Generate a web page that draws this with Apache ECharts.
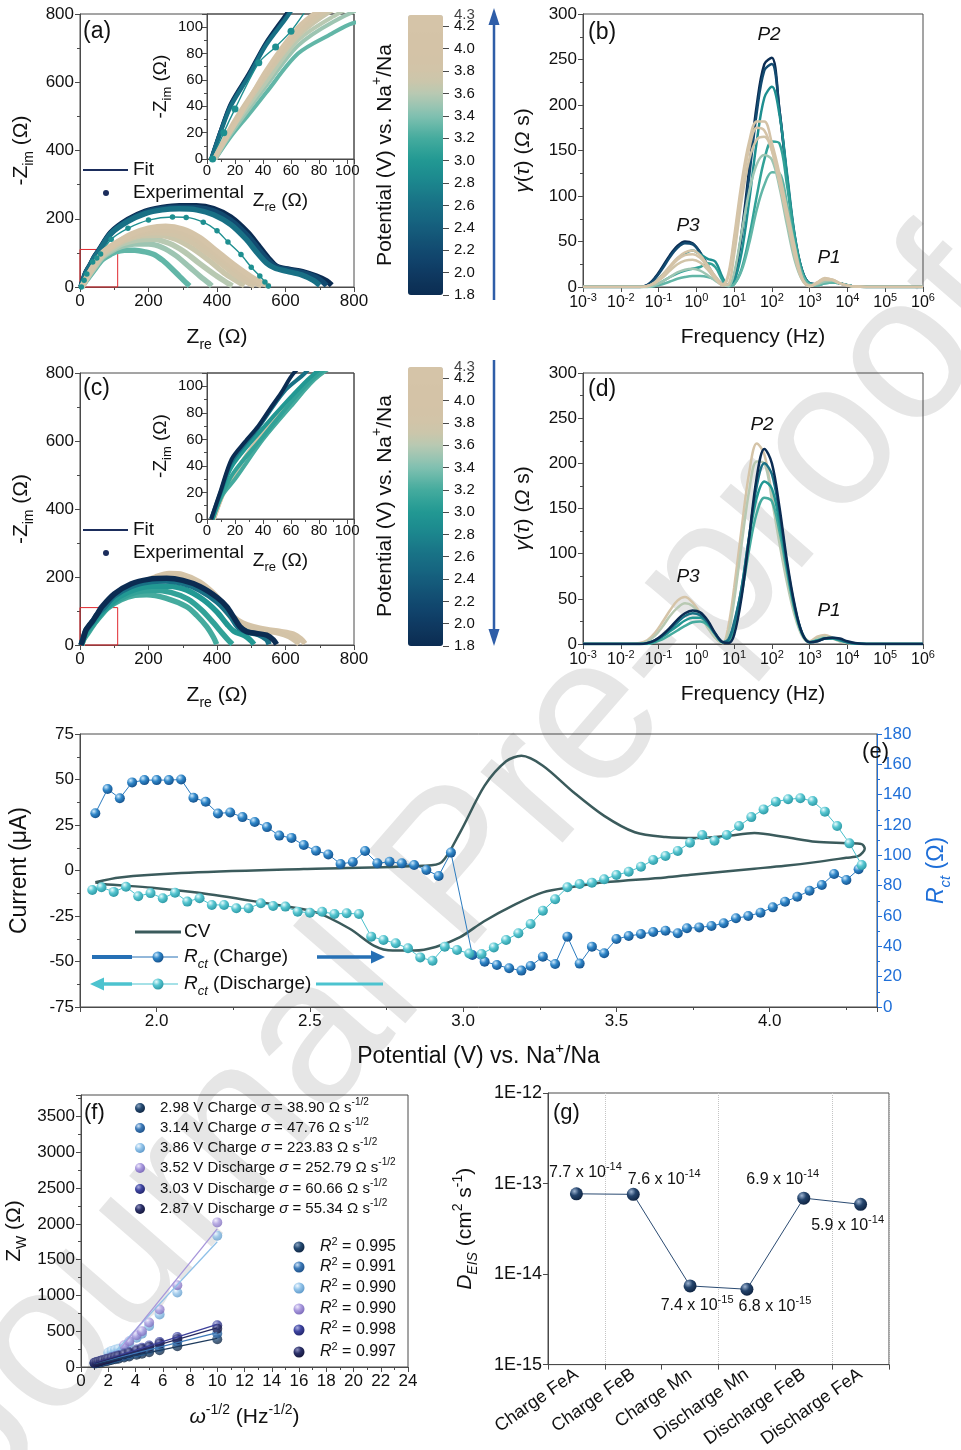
<!DOCTYPE html>
<html>
<head>
<meta charset="utf-8">
<title>EIS / DRT / CV figure</title>
<script src="https://cdn.jsdelivr.net/npm/echarts@6.0.0/dist/echarts.min.js"></script>
<style>
html,body{margin:0;padding:0;background:#fff;}
#chart{width:961px;height:1450px;}
</style>
</head>
<body>
<div id="chart"></div>
<script>
// ====================== DATA ======================
// --- (a) Nyquist, charge: [Zre, -Zim] in ohm ---
const nyqA_1_8 = [[3,0],[10,22],[17,42],[30,65],[42,88],[56,109],[90,160],[140,198],[190,222],[240,233],[290,238],[340,238],[390,230],[440,205],[490,160],[520,123],[550,85],[575,60],[610,52],[650,45],[690,32],[720,18],[735,5]];
const nyqA_2_2 = [[3,0],[10,22],[17,41],[30,64],[42,87],[56,107],[90,158],[140,195],[190,219],[240,230],[290,234],[340,233],[390,223],[440,196],[490,150],[520,113],[550,78],[575,58],[610,50],[650,42],[690,28],[712,12],[720,4]];
const nyqA_2_6 = [[3,0],[10,21],[17,40],[30,63],[42,86],[56,106],[90,156],[140,192],[190,215],[240,226],[290,229],[340,226],[390,212],[440,183],[485,140],[515,103],[545,70],[570,55],[605,46],[645,36],[680,20],[700,5]];
const nyqA_2_9 = [[4,0],[12,20],[20,38],[37,73],[49,85],[60,97],[91,140],[140,172],[200,196],[270,205],[310,204],[360,190],[400,165],[432,132],[470,95],[500,58],[525,32],[540,15],[550,3]];
const nyqA_3_3 = [[6,0],[17,17],[30,34],[42,50],[65,80],[89,95],[104,103],[130,108],[160,108],[190,103],[219,94],[245,75],[266,56],[290,32],[307,15],[320,3]];
const nyqA_3_5 = [[6,0],[17,19],[42,55],[65,86],[90,104],[120,118],[160,126],[200,126],[240,116],[280,92],[320,58],[350,32],[375,12],[385,3]];
const nyqA_3_6 = [[6,0],[17,21],[42,58],[65,90],[90,108],[125,127],[170,138],[215,140],[260,128],[305,103],[350,68],[395,35],[430,12],[445,3]];
const nyqA_3_7 = [[5,0],[18,24],[42,62],[65,93],[90,113],[130,136],[180,150],[230,152],[280,140],[330,112],[380,75],[420,42],[460,16],[480,4]];
const nyqA_3_8 = [[5,0],[19,27],[42,63],[65,95],[88,114],[125,137],[175,154],[225,160],[275,154],[325,132],[375,97],[420,62],[462,30],[495,10],[510,3]];
const nyqA_3_9 = [[5,0],[20,30],[42,65],[65,98],[85,115],[120,138],[170,158],[220,168],[270,166],[320,150],[370,118],[420,78],[465,42],[505,16],[530,4]];
const nyqA_4_2 = [[5,0],[22,30],[42,67],[65,100],[80,113],[110,132],[150,155],[200,172],[250,178],[300,170],[350,145],[400,105],[450,65],[500,30],[540,8],[555,2]];

// --- (c) Nyquist, discharge ---
const nyqC_4_2 = [[5,0],[12,20],[20,35],[35,58],[50,78],[65,95],[82,110],[120,145],[170,180],[220,200],[260,210],[300,207],[350,185],[390,152],[420,118],[448,83],[475,65],[506,54],[545,46],[585,40],[623,32],[645,18],[657,4]];
const nyqC_3_8 = [[5,0],[12,20],[20,35],[35,58],[50,78],[65,95],[82,110],[120,143],[170,176],[220,195],[260,203],[300,199],[350,176],[390,142],[420,108],[445,78],[470,60],[500,50],[540,42],[580,35],[610,25],[630,12],[640,3]];
const nyqC_3_2 = [[4,0],[11,18],[20,30],[40,60],[60,85],[80,108],[120,133],[160,146],[195,148],[250,138],[311,113],[340,88],[370,54],[390,22],[399,2]];
const nyqC_3_1 = [[4,0],[11,19],[19,35],[40,62],[60,88],[78,108],[120,138],[165,156],[215,161],[265,155],[315,135],[355,103],[390,65],[415,35],[435,12],[445,2]];
const nyqC_3_0 = [[4,0],[10,20],[18,40],[38,66],[60,92],[75,108],[115,142],[160,163],[210,173],[260,173],[310,162],[360,133],[400,97],[430,60],[450,40],[480,28],[500,12],[508,2]];
const nyqC_2_6 = [[3,0],[10,21],[17.5,43],[36,68],[55,96],[70,110],[100,144],[150,172],[200,185],[250,188],[300,181],[350,161],[400,127],[440,84],[460,54],[490,38],[520,31],[545,16],[552,2]];
const nyqC_1_8 = [[3,0],[10,22],[17.5,45],[27,58],[36.6,70],[45,83],[53,95],[62,110],[100,150],[150,180],[200,193],[253,196],[300,190],[350,172],[400,140],[428,113],[450,80],[467,54],[487,39],[515,34],[545,29],[565,15],[574,2]];

// --- (b),(d) DRT: frequency grid (Hz) and gamma(tau) values (ohm s) ---
const drtFreq = [0.001,0.01,0.0316,0.0501,0.0794,0.126,0.2,0.316,0.501,0.794,1.26,2.0,3.16,5.01,7.08,10,15.8,25.1,39.8,63.1,100,158,251,398,631,1000,1585,2512,3981,6310,10000,15849,31623,1000000];
const drtB_1_8 = [0,0,0,2,10,22,35,45,50,48,38,22,9,2,1,12,60,130,200,245,252,195,120,55,18,4,3,5,6,4,2,0.5,0,0];
const drtB_2_2 = [0,0,0,2,9,20,33,43,48,47,38,24,11,3,1,10,55,122,192,238,245,195,122,57,18,4,3,5,6,4,2,0.5,0,0];
const drtB_2_9 = [0,0,0,1,5,13,22,31,37,40,36,31,28,10,2,6,38,95,160,208,220,190,125,58,18,4,3,5,6,4,2,0.5,0,0];
const drtB_3_1 = [0,0,0,0,2,6,11,15,18,20,22,26,22,7,1,3,20,55,100,140,160,158,112,55,16,3,2,4,5,4,2,0.5,0,0];
const drtB_3_3 = [0,0,0,0,1,3,6,9,11,12,12,11,8,3,1,3,18,48,85,112,126,125,92,46,14,3,2,4,5,4,2,0.5,0,0];
const drtB_3_5 = [0,0,0,0,2,6,11,16,19,20,18,13,7,2,1,15,60,105,135,145,140,110,68,30,8,2,3,6,7,4,2,0.5,0,0];
const drtB_3_8 = [0,0,0,1,4,10,18,25,29,30,27,19,9,2,3,35,95,140,162,165,150,115,75,35,8,1,4,8,8,4,1.5,0.5,0,0];
const drtB_4_0 = [0,0,0,1,5,13,23,32,38,40,35,24,12,3,15,55,115,160,182,182,158,125,85,45,10,1,5,10,8,4,1.5,0.5,0,0];
const drtB_4_2 = [0,0,0,1,5,12,21,30,35,36,32,22,10,2,12,50,108,152,175,172,150,115,78,40,9,1,5,9,8,4,1.5,0.5,0,0];
const drtD_4_2 = [0,0,1,4,12,24,37,48,52,46,34,19,7,1,20,62,128,190,222,210,165,118,75,38,12,3,8,10,7,3,1,0.3,0,0];
const drtD_3_6 = [0,0,0,3,9,19,31,40,45,42,32,18,7,1,12,48,110,170,202,200,160,112,68,32,9,2,6,8,6,3,1,0.3,0,0];
const drtD_3_2 = [0,0,0,0,2,5,10,15,20,24,25,21,11,2,3,18,55,105,145,162,158,125,80,38,11,2,4,6,6,4,2,0.5,0,0];
const drtD_3_0 = [0,0,0,1,3,8,14,20,26,29,29,23,11,2,4,22,62,118,162,180,172,135,85,40,12,2,4,6,6,4,2,0.5,0,0];
const drtD_2_6 = [0,0,0,1,4,9,16,24,31,34,32,24,11,2,5,24,62,120,175,200,188,145,88,42,12,2,3,6,7,5,2,0.7,0,0];
const drtD_1_8 = [0,0,0,1,4,10,18,27,34,37,35,26,12,2,1,10,52,118,185,216,200,152,92,44,12,2,3,6,7,6,3,1,0,0];

// --- colour bar tick labels (V) ---
const cbarTopLabel = '4.3';

// --- (e) CV loop (V, uA) ---
const cvPotential = [1.80,1.88,2.08,2.48,2.87,2.93,2.99,3.07,3.14,3.19,3.26,3.36,3.46,3.56,3.66,3.76,3.86,3.95,4.05,4.15,4.25,4.30,4.31,4.29,4.25,4.15,4.05,3.95,3.76,3.66,3.46,3.36,3.26,3.165,3.067,2.99,2.91,2.84,2.77,2.71,2.63,2.52,2.38,2.17,1.985,1.825,1.80];
const cvCurrent   = [-6.5,-3.8,-1.4,0.8,2.6,4.6,21,46.6,60,63,57.6,43,30,21,18.4,17.8,19,20.6,18.4,15.8,15,14.5,12,8,7,4.6,2.6,1,-2,-3.8,-6.5,-9,-12,-19,-28,-36.6,-42,-44,-44,-41.4,-32,-23,-18.6,-13,-9.5,-7.4,-6.5];
// --- (e) Rct (ohm) ---
const rctChargeV = [1.80,1.84,1.88,1.92,1.96,2.00,2.04,2.08,2.12,2.16,2.20,2.24,2.28,2.32,2.36,2.40,2.44,2.48,2.52,2.56,2.60,2.64,2.68,2.72,2.76,2.80,2.84,2.88,2.92,2.96,3.03,3.07,3.11,3.15,3.19,3.22,3.26,3.30,3.34,3.38,3.42,3.46,3.50,3.54,3.58,3.62,3.66,3.70,3.73,3.77,3.81,3.85,3.89,3.93,3.97,4.01,4.05,4.09,4.13,4.17,4.21,4.25,4.29];
const rctChargeR = [127.7,143.7,137.6,148.1,149.6,149.6,149.6,150,138,135.3,127.6,128.3,125.2,122,118.6,113,111.5,106.8,103,100.6,94.3,95.6,102.8,94.7,95.8,94.7,93.6,90.3,86.4,101.8,34.3,29.9,27.7,25.5,24,27,33.2,28.3,46.4,28.6,39.8,35.4,44.8,46.8,48.1,49.4,50.3,48.6,51.9,52.5,53.4,55.2,58.5,60,62.2,65.7,69.4,72.7,76.7,80.4,87.7,83.7,90.8];
const rctDischargeV = [4.30,4.26,4.22,4.18,4.14,4.10,4.06,4.02,3.98,3.94,3.90,3.86,3.82,3.78,3.74,3.70,3.66,3.62,3.58,3.54,3.50,3.46,3.42,3.38,3.34,3.30,3.26,3.22,3.18,3.14,3.10,3.06,3.02,2.98,2.94,2.90,2.86,2.82,2.78,2.74,2.70,2.66,2.62,2.58,2.54,2.50,2.46,2.42,2.38,2.34,2.30,2.26,2.22,2.18,2.14,2.10,2.06,2.02,1.98,1.94,1.90,1.86,1.82,1.79];
const rctDischargeR = [93.6,107.9,119.3,128.8,135.8,137.6,137,135.3,130.3,125.2,119.3,113.4,109.6,113.4,108.3,102.9,99.6,96.9,92.5,89.2,87,84.2,82,81.1,78.9,71,63.5,54.7,48.6,44.2,39.3,35,35.3,37.6,39.8,30.5,32.7,38.7,42,44.2,46.4,61.3,61.8,61.3,62.8,62.2,62.8,66.2,66.6,68.4,65.1,65.1,67.3,67.3,71.7,69.5,75.4,71.7,75.1,73,79.3,75.9,78.9,77.2];

// --- (f) Warburg plot: omega^-1/2 and Zw (ohm) ---
const warburgX = [1.0,1.15,1.29,1.45,1.58,1.83,2.0,2.24,2.5,2.74,3.16,3.54,4.08,4.47,5.0,5.77,7.07,10.0];
const zw298C = [48,53,59,66,71,81,88,98,108,117,133,148,170,185,205,233,289,387];
const zw314C = [53,60,66,74,80,92,100,112,124,135,155,172,200,220,245,280,350,467];
const zw386C = [null,null,null,null,null,null,200,225,240,255,290,335,410,466,574,733,1040,1834];
const zw352D = [null,null,null,null,null,null,null,null,null,null,303,359,443,499,621,803,1143,2020];
const zw303D = [61,70,78,88,96,110,120,135,150,163,188,210,245,270,300,350,420,583];
const zw287D = [58,66,74,83,90,104,113,126,140,152,175,196,228,250,280,327,387,536];
const fit298C = [[1.0,45],[10,400]];
const fit314C = [[1.0,50],[10,480]];
const fit386C = [[2.6,233],[10,1750]];
const fit352D = [[3.0,280],[10,1930]];
const fit303D = [[1.0,55],[10,595]];
const fit287D = [[1.0,50],[10,545]];
const zwNames  = ['2.98 V Charge','3.14 V Charge','3.86 V Charge','3.52 V Discharge','3.03 V Discharge','2.87 V Discharge'];
const zwSigma  = ['38.90','47.76','223.83','252.79','60.66','55.34'];
const zwR2     = ['0.995','0.991','0.990','0.990','0.998','0.997'];

// --- (g) diffusion coefficients ---
const dCategories = ['Charge FeA','Charge FeB','Charge Mn','Discharge Mn','Discharge FeB','Discharge FeA'];
const dValues   = [7.7e-14, 7.6e-14, 7.4e-15, 6.8e-15, 6.9e-14, 5.9e-14];
const dMantissa = ['7.7','7.6','7.4','6.8','6.9','5.9'];
const dExponent = ['-14','-14','-15','-15','-14','-14'];

// ====================== STYLE ======================
const F  = 'Liberation Sans, Arial, sans-serif';
const FN = 'Liberation Sans Narrow, Arial Narrow, Liberation Sans, sans-serif';
const INK = '#111';
const AXC = '#4a4a4a';
const BLUE = '#1f6fd8';
const ARROW = '#2f5ea8';
const CMAP = ['#0b2c52','#0d3359','#0f3a62','#10426a','#124a70','#135476','#155d7c','#166781','#187085','#1a7a89','#1b858d','#1e8f90','#229893','#32a298','#45ab9e','#62b6a7','#80c0b0','#9dc5b2','#b8c9b2','#cac6ab','#d1c4a8','#d3c3a7','#d4c3a7','#d4c3a7','#d5c4a8','#d5c4a8'];
function colorAt(v){ return CMAP[Math.max(0, Math.min(CMAP.length-1, Math.round((v-1.8)/0.1)))]; }
function ball(light, mid, dark){
  return new echarts.graphic.RadialGradient(0.35, 0.3, 0.75, [{offset:0,color:light},{offset:0.45,color:mid},{offset:1,color:dark}]);
}
const dLabelOffset = [[9,-21],[31,-15],[7,20],[28,17],[-21,-19],[-13,21]];

function R(size, color, fam){
  const lh = Math.round(size*1.4), sm = Math.round(size*0.66);
  const base = {fontSize:size, lineHeight:lh, color:color, fill:color, fontFamily:fam, verticalAlign:'middle'};
  return {
    n: base,
    i: Object.assign({}, base, {fontStyle:'italic'}),
    sub: Object.assign({}, base, {fontSize:sm, verticalAlign:'bottom'}),
    isub: Object.assign({}, base, {fontSize:sm, verticalAlign:'bottom', fontStyle:'italic'}),
    sup: Object.assign({}, base, {fontSize:sm, verticalAlign:'top'})
  };
}
function merge(a, b){
  const o = Object.assign({}, a);
  for (const k in b){
    const v = b[k];
    if (v && typeof v === 'object' && !Array.isArray(v) && typeof v !== 'function' && !(v instanceof echarts.graphic.RadialGradient)
        && o[k] && typeof o[k] === 'object' && !Array.isArray(o[k])) o[k] = merge(o[k], v);
    else o[k] = v;
  }
  return o;
}
const plain = v => String(Math.round(v * 1000) / 1000);
function baseAxis(gi, extra){
  return merge({
    gridIndex: gi,
    axisLine: {show:true, onZero:false, lineStyle:{color:AXC, width:1}},
    axisTick: {show:true, length:5, lineStyle:{color:AXC}},
    minorTick: {show:true, splitNumber:2, length:3, lineStyle:{color:AXC}},
    splitLine: {show:false},
    minorSplitLine: {show:false},
    axisLabel: {color:INK, fontSize:17, fontFamily:F, margin:6, formatter: plain},
    nameLocation: 'middle',
    nameTextStyle: {color:INK, fontFamily:F, fontSize:21, rich:R(21, INK, F)}
  }, extra);
}

// ====================== LAYOUT ======================
const grids = [
  {left:80,  top:14,   width:274, height:273}, // 0 (a)
  {left:207, top:14,   width:147, height:145}, // 1 (a) inset
  {left:408, top:15,   width:35,  height:280}, // 2 colour bar a
  {left:583, top:14,   width:340, height:273}, // 3 (b)
  {left:80,  top:373,  width:274, height:272}, // 4 (c)
  {left:207, top:373,  width:147, height:146}, // 5 (c) inset
  {left:408, top:367,  width:35,  height:279}, // 6 colour bar c
  {left:583, top:373,  width:340, height:271}, // 7 (d)
  {left:80,  top:734,  width:810, height:273}, // 8 (e)
  {left:81,  top:1095, width:327, height:272}, // 9 (f)
  {left:548, top:1093, width:341, height:274}  // 10 (g)
].map(g => Object.assign({show:true, borderColor:AXC, borderWidth:1, backgroundColor:'transparent'}, g));
grids[2].show = false; grids[6].show = false;

const nyqX = {type:'value', min:0, max:800, interval:200, name:'{n|Z}{sub|re}{n| (Ω)}', nameGap:36};
const nyqY = {type:'value', min:0, max:800, interval:200, name:'{n|-Z}{sub|im}{n| (Ω)}', nameGap:44};
const insX = {type:'value', min:0, max:105, interval:20, axisLabel:{fontSize:15, showMaxLabel:false, margin:4}, name:'{n|Z}{sub|re}{n| (Ω)}', nameGap:28, nameTextStyle:{fontSize:19, rich:R(19, INK, F)}};
const insY = {type:'value', min:0, max:110, interval:20, axisLabel:{fontSize:15, showMaxLabel:false, margin:4}, name:'{n|-Z}{sub|im}{n| (Ω)}', nameGap:32, nameTextStyle:{fontSize:19, rich:R(19, INK, F)}};
const logX = {type:'log', logBase:10, min:0.001, max:1e6, splitNumber:9, minorTick:{show:false},
  axisLabel:{fontSize:16, formatter: v => '{n|10}{sup|' + Math.round(Math.log10(v)) + '}', rich:R(16, INK, F), margin:5},
  name:'{n|Frequency (Hz)}', nameGap:36};
const drtY = {type:'value', min:0, max:300, interval:50, name:'{i|γ}{n|(}{i|τ}{n|) (}{i|Ω}{n| s)}', nameGap:45};
const cbY = {type:'value', position:'right', min:1.8, max:4.3, interval:0.2, axisLine:{show:false}, minorTick:{show:false},
  axisTick:{length:6}, axisLabel:{fontSize:15, margin:11, showMaxLabel:false, showMinLabel:true, formatter: v => v.toFixed(1)}};
const hidden = gi => ({type:'value', gridIndex:gi, show:false, min:0, max:1});

const xAxes = [
  baseAxis(0, nyqX), baseAxis(1, insX), hidden(2), baseAxis(3, logX),
  baseAxis(4, nyqX), baseAxis(5, insX), hidden(6), baseAxis(7, logX),
  baseAxis(8, {type:'value', min:1.75, max:4.35,
    axisLabel:{fontFamily:FN, fontSize:17, formatter: v => (Math.abs(v*2 - Math.round(v*2)) < 1e-6 ? v.toFixed(1) : '')},
    name:'{n|Potential (V) vs. Na}{sup|+}{n|/Na}', nameGap:34, nameTextStyle:{fontFamily:FN, fontSize:23, rich:R(23, INK, FN)}}),
  baseAxis(9, {type:'value', min:0, max:24, interval:2, name:'{i|ω}{sup|-1/2}{n| (Hz}{sup|-1/2}{n|)}', nameGap:36}),
  baseAxis(10, {type:'category', data:dCategories, boundaryGap:true, minorTick:{show:false},
    axisLabel:{rotate:35, interval:0, fontSize:18, margin:8, formatter:null},
    splitLine:{show:true, interval:(i) => i % 2 === 1, lineStyle:{color:'#c4c4c4', type:'dotted', width:1}}})
];
const yAxes = [
  baseAxis(0, nyqY), baseAxis(1, insY), baseAxis(2, cbY), baseAxis(3, drtY),
  baseAxis(4, nyqY), baseAxis(5, insY), baseAxis(6, cbY), baseAxis(7, drtY),
  baseAxis(8, {type:'value', min:-75, max:75, interval:25, axisLabel:{fontFamily:FN},
    name:'{n|Current (μA)}', nameGap:44, nameTextStyle:{fontFamily:FN, fontSize:23, rich:R(23, INK, FN)}}),
  baseAxis(9, {type:'value', min:0, max:3800, interval:500, axisLabel:{showMaxLabel:false}, name:'{n|Z}{sub|W}{n| (Ω)}', nameGap:52}),
  baseAxis(10, {type:'log', logBase:10, min:1e-15, max:1e-12, splitNumber:3, minorTick:{show:false},
    axisLabel:{fontSize:18, formatter: v => '1E' + Math.round(Math.log10(v))},
    name:'{i|D}{isub|EIS}{n| (cm}{sup|2}{n| s}{sup|-1}{n|)}', nameGap:68}),
  baseAxis(8, {type:'value', position:'right', min:0, max:180, interval:20,
    axisLine:{lineStyle:{color:BLUE}}, axisTick:{lineStyle:{color:BLUE}}, minorTick:{lineStyle:{color:BLUE}},
    axisLabel:{color:BLUE, fontFamily:FN},
    name:'{i|R}{isub|ct}{n| (Ω)}', nameGap:44, nameTextStyle:{color:BLUE, fontFamily:FN, fontSize:23, rich:R(23, BLUE, FN)}})
];

// ====================== SERIES ======================
const series = [];
function addNyq(list, gMain, gIns){
  list.forEach((item, k) => {
    const data = item[0], v = item[1], marked = item[2];
    const color = colorAt(v);
    [gMain, gIns].forEach((gi, j) => {
      const s = {type:'line', xAxisIndex:gi, yAxisIndex:gi, data:data, smooth:0.3, silent:true,
        symbol: marked ? 'circle' : 'none', showSymbol: !!marked, symbolSize: marked ? (j ? 7 : 5.5) : 0,
        lineStyle:{color:color, width: marked ? 1.4 : (j ? 4 : 5.5)}, itemStyle:{color:color}};
      if (j === 0 && k === 0) {
        s.markArea = {silent:true, itemStyle:{color:'rgba(0,0,0,0)', borderColor:'#e0282e', borderWidth:1},
          data:[[{coord:[0,0]},{coord:[110,110]}]]};
      }
      series.push(s);
    });
  });
}
addNyq([[nyqA_1_8,1.8],[nyqA_2_2,2.2],[nyqA_2_6,2.6],[nyqA_2_9,2.9,true],[nyqA_3_3,3.3],[nyqA_3_5,3.5],[nyqA_3_6,3.6],[nyqA_3_7,3.7],[nyqA_3_8,3.8],[nyqA_3_9,3.9],[nyqA_4_2,4.2]], 0, 1);
addNyq([[nyqC_4_2,4.2],[nyqC_3_8,3.9],[nyqC_3_2,3.2],[nyqC_3_1,3.1],[nyqC_3_0,3.0],[nyqC_2_6,2.6],[nyqC_1_8,1.8]], 4, 5);

function addDrt(list, gi){
  list.forEach(item => series.push({type:'line', xAxisIndex:gi, yAxisIndex:gi, silent:true,
    data: drtFreq.map((f, i) => [f, item[0][i]]), smooth:0.35, symbol:'none',
    lineStyle:{color:colorAt(item[1]), width:2.5}}));
}
addDrt([[drtB_1_8,1.8],[drtB_2_2,2.2],[drtB_2_9,2.9],[drtB_3_1,3.1],[drtB_3_3,3.3],[drtB_3_5,3.5],[drtB_3_8,3.8],[drtB_4_0,4.0],[drtB_4_2,4.2]], 3);
addDrt([[drtD_4_2,4.2],[drtD_3_6,3.6],[drtD_3_2,3.2],[drtD_3_0,3.0],[drtD_2_6,2.6],[drtD_1_8,1.8]], 7);

// dummy targets for the colour bars; the top value label sits at the bar's max through a markPoint-free label series
const cbIdxA = series.length;
series.push({type:'scatter', xAxisIndex:2, yAxisIndex:2, data:[], silent:true});
const cbIdxC = series.length;
series.push({type:'scatter', xAxisIndex:6, yAxisIndex:6, data:[], silent:true});
// top label "4.3" placed through the colour-bar axis scale
[2, 6].forEach(gi => series.push({type:'scatter', xAxisIndex:gi, yAxisIndex:gi, silent:true, symbolSize:0,
  data:[[1, parseFloat(cbarTopLabel)]],
  label:{show:true, position:'right', distance:11, formatter: cbarTopLabel, color:INK, fontSize:15, fontFamily:F}}));

// (e)
series.push({type:'line', xAxisIndex:8, yAxisIndex:8, silent:true, data: cvPotential.map((v, i) => [v, cvCurrent[i]]),
  smooth:0.3, symbol:'none', lineStyle:{color:'#3b5b5c', width:2.5}});
series.push({type:'line', xAxisIndex:8, yAxisIndex:11, silent:true, data: rctChargeV.map((v, i) => [v, rctChargeR[i]]),
  symbol:'circle', symbolSize:10, lineStyle:{color:'#2b7bbf', width:1}, itemStyle:{color: ball('#cdeafd','#2f86c8','#134e88')}});
series.push({type:'line', xAxisIndex:8, yAxisIndex:11, silent:true, data: rctDischargeV.map((v, i) => [v, rctDischargeR[i]]),
  symbol:'circle', symbolSize:10, lineStyle:{color:'#47bfcb', width:1}, itemStyle:{color: ball('#eafcfd','#56c6d1','#2a96a2')}});

// (f)
const zwSets = [
  [zw298C, fit298C, '#1d3a5c', ball('#8aa3c0','#244a72','#0f2440')],
  [zw314C, fit314C, '#3d7ab8', ball('#cfe3f7','#3d7ab8','#1d4f86')],
  [zw386C, fit386C, '#8ec0e8', ball('#f1f8fe','#93c4ea','#5d98c8')],
  [zw352D, fit352D, '#a796da', ball('#eee9fb','#a99ade','#7b69b8')],
  [zw303D, fit303D, '#3b3f9a', ball('#a9acdf','#3e44a0','#22256a')],
  [zw287D, fit287D, '#262a60', ball('#8c8fbe','#2b3068','#14163a')]
];
zwSets.forEach(s => {
  series.push({type:'line', xAxisIndex:9, yAxisIndex:9, silent:true, data:s[1], symbol:'none', lineStyle:{color:s[2], width:1.3}});
});
zwSets.forEach(s => {
  const pts = [];
  warburgX.forEach((x, i) => { if (s[0][i] != null) pts.push([x, s[0][i]]); });
  series.push({type:'scatter', xAxisIndex:9, yAxisIndex:9, silent:true, data:pts, symbolSize:10, itemStyle:{color:s[3]}});
});

// (g)
series.push({type:'line', xAxisIndex:10, yAxisIndex:10, silent:true,
  data: dValues.map((v, i) => ({value:v, label:{offset:dLabelOffset[i]}})),
  symbol:'circle', symbolSize:13, lineStyle:{color:'#2b4b72', width:1},
  itemStyle:{color: ball('#9fb5d2','#24446c','#0e223f')},
  label:{show:true, position:'inside', color:INK, textBorderWidth:0,
    formatter: p => '{n|' + dMantissa[p.dataIndex] + ' x 10}{sup|' + dExponent[p.dataIndex] + '}',
    rich: R(16, INK, F)}});

// ====================== GRAPHICS (labels, legends, arrows) ======================
const G = [];
function T(x, y, text, size, o){
  o = o || {};
  const fam = o.family || F, col = o.color || INK, al = o.align || 'left';
  G.push({type:'text', x:x, y:y, rotation:o.rotation || 0, z:(o.z == null ? 50 : o.z), silent:true,
    style:{text:text, fontSize:size, fontFamily:fam, fontStyle:o.italic ? 'italic' : 'normal', fill:col,
      align:al, textAlign:al, verticalAlign:'middle', textVerticalAlign:'middle', rich:R(size, col, fam)}});
}
function L(x1, y1, x2, y2, color, w){ G.push({type:'line', silent:true, z:50, shape:{x1:x1, y1:y1, x2:x2, y2:y2}, style:{stroke:color, lineWidth:w}}); }
function P(points, color){ G.push({type:'polygon', silent:true, z:50, shape:{points:points}, style:{fill:color}}); }
function C(cx, cy, r, fill){ G.push({type:'circle', silent:true, z:50, shape:{cx:cx, cy:cy, r:r}, style:{fill:fill}}); }

// watermark
T(462, 872, 'Journal Pre-proof', 205, {color:'#e6e6e6', align:'center', rotation:0.855, z:-5});

// panel letters
T(83, 32, '(a)', 23); T(588, 33, '(b)', 23); T(83, 389, '(c)', 23); T(588, 390, '(d)', 23);
T(889, 752, '(e)', 22, {align:'right'}); T(84, 1113, '(f)', 22); T(553, 1113, '(g)', 22);

// Nyquist legends
[[170,193],[530,553]].forEach(r => {
  L(83, r[0], 128, r[0], '#1b2d5c', 2); T(133, r[0], 'Fit', 19);
  C(106, r[1], 3, '#1b2d5c'); T(133, r[1], 'Experimental', 19);
});

// colour bar titles + arrows
T(385, 155, '{n|Potential (V) vs. Na}{sup|+}{n|/Na}', 21, {align:'center', rotation:Math.PI/2});
T(385, 506, '{n|Potential (V) vs. Na}{sup|+}{n|/Na}', 21, {align:'center', rotation:Math.PI/2});
L(494, 300, 494, 22, ARROW, 2.5); P([[494,8],[488.5,25],[499.5,25]], ARROW);
L(494, 360, 494, 632, ARROW, 2.5); P([[494,646],[488.5,629],[499.5,629]], ARROW);

// DRT peak names
T(769, 35, 'P2', 19, {italic:true, align:'center'}); T(688, 226, 'P3', 19, {italic:true, align:'center'}); T(829, 258, 'P1', 19, {italic:true, align:'center'});
T(762, 425, 'P2', 19, {italic:true, align:'center'}); T(688, 577, 'P3', 19, {italic:true, align:'center'}); T(829, 611, 'P1', 19, {italic:true, align:'center'});

// (e) legend
L(135, 932, 181, 932, '#3b5b5c', 3); T(184, 932, 'CV', 19, {family:FN});
L(92, 957, 132, 957, '#2670b5', 4); L(132, 957, 178, 957, '#2670b5', 1); C(158, 957, 5.5, ball('#cdeafd','#2f86c8','#134e88'));
T(184, 957, '{i|R}{isub|ct}{n| (Charge)}', 19, {family:FN});
L(317, 957, 373, 957, '#2670b5', 3.5); P([[385,957],[371,950.5],[371,963.5]], '#2670b5');
P([[90,984],[104,977.5],[104,990.5]], '#4cc3cf'); L(102, 984, 132, 984, '#4cc3cf', 3.5); L(132, 984, 178, 984, '#4cc3cf', 1);
C(158, 984, 5.5, ball('#eafcfd','#56c6d1','#2a96a2'));
T(184, 984, '{i|R}{isub|ct}{n| (Discharge)}', 19, {family:FN});
L(316, 984, 383, 984, '#4cc3cf', 3);

// (f) legends
const fRow1 = [1108,1128,1148,1168,1189,1209];
const fRow2 = [1247,1267,1288,1309,1330,1352];
zwSets.forEach((s, k) => {
  C(140, fRow1[k], 5, s[3]);
  T(160, fRow1[k], '{n|' + zwNames[k] + ' }{i|σ}{n| = ' + zwSigma[k] + ' Ω s}{sup|-1/2}', 15);
  C(299, fRow2[k], 5.5, s[3]);
  T(320, fRow2[k], '{i|R}{sup|2}{n| = ' + zwR2[k] + '}', 16);
});

// ====================== CHART ======================
const chart = echarts.init(document.getElementById('chart'), null, {renderer:'canvas', width:961, height:1450});
chart.setOption({
  animation:false,
  backgroundColor:'#ffffff',
  textStyle:{fontFamily:F},
  grid: grids,
  xAxis: xAxes,
  yAxis: yAxes,
  visualMap: [
    {type:'continuous', seriesIndex:cbIdxA, min:1.8, max:4.3, left:408, top:15, itemWidth:35, itemHeight:280,
      padding:0, calculable:false, hoverLink:false, showLabel:false, inRange:{color:CMAP}},
    {type:'continuous', seriesIndex:cbIdxC, min:1.8, max:4.3, left:408, top:367, itemWidth:35, itemHeight:279,
      padding:0, calculable:false, hoverLink:false, showLabel:false, inRange:{color:CMAP}}
  ],
  series: series,
  graphic: {elements: G}
});
</script>
</body>
</html>
